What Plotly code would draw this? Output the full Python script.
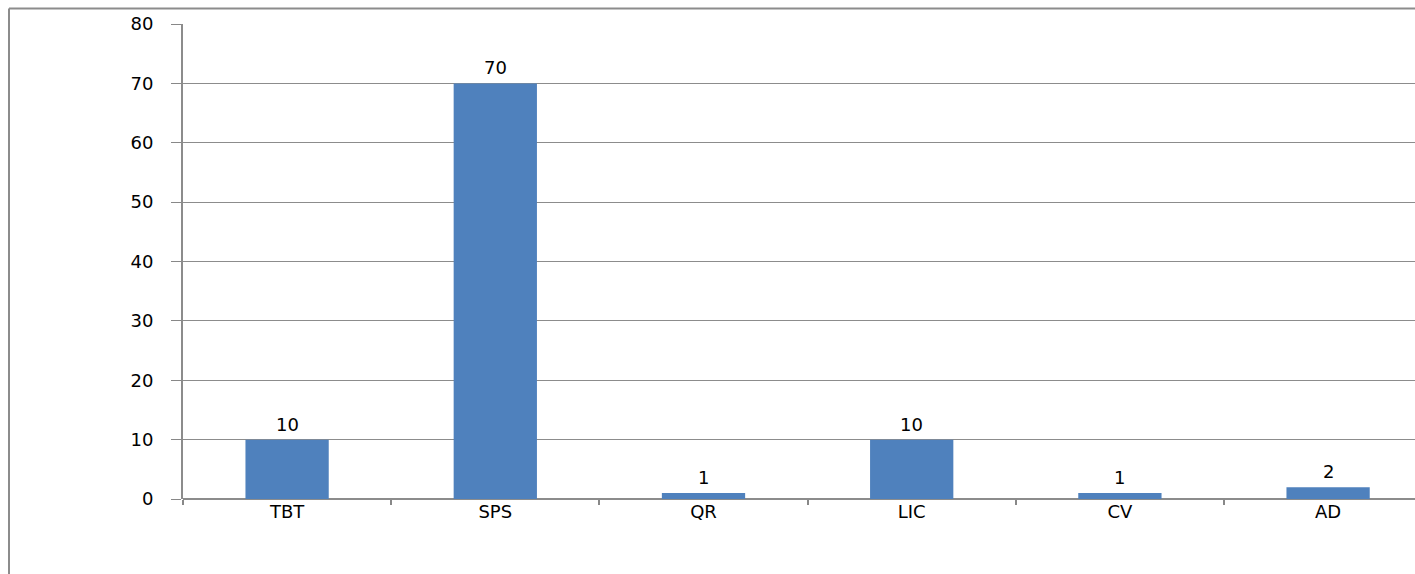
import plotly.graph_objects as go

categories = ["TBT", "SPS", "QR", "LIC", "CV", "AD"]
values = [10, 70, 1, 10, 1, 2]
y_ticks = [0, 10, 20, 30, 40, 50, 60, 70, 80]

W, H = 1415, 574
L, R, T, B = 183, 0, 24, 75
pw = W - L - R
ph = H - T - B

FONT = "DejaVu Sans"
FS = 18

fig = go.Figure()
fig.add_trace(go.Bar(
    x=categories, y=values,
    marker=dict(color="#4F81BD", line=dict(width=0)),
    width=0.4,
    cliponaxis=False,
))

for c, v in zip(categories, values):
    fig.add_annotation(x=c, y=v, text=str(v), showarrow=False,
                       yanchor="bottom", yshift=3,
                       font=dict(family=FONT, size=FS, color="#000000"))

cat_w = 208.2
xmax = -0.5 + pw / cat_w

fig.update_layout(
    width=W, height=H,
    margin=dict(l=L, r=R, t=T, b=B),
    paper_bgcolor="white", plot_bgcolor="white",
    showlegend=False,
    font=dict(family=FONT, size=FS, color="#000000"),
    xaxis=dict(
        range=[-0.5, xmax],
        tickson="boundaries", ticks="outside", ticklen=5, tickwidth=2, tickcolor="#888888",
        showline=False, showgrid=False,
        tickfont=dict(family=FONT, size=FS),
    ),
    yaxis=dict(
        range=[0, 80], tickvals=y_ticks, ticktext=[str(v) for v in y_ticks],
        ticks="outside", ticklen=10, tickwidth=1, tickcolor="#888888",
        showgrid=True, gridcolor="#8c8c8c", gridwidth=1,
        showline=True, linecolor="#8c8c8c", linewidth=2,
        zeroline=True, zerolinecolor="#8c8c8c", zerolinewidth=2,
        ticklabelstandoff=14,
        tickfont=dict(family=FONT, size=FS),
    ),
    shapes=[
        dict(type="line", xref="paper", yref="paper",
             x0=(9 - L) / pw, x1=1.02, y0=1 + (T - 8.5) / ph, y1=1 + (T - 8.5) / ph,
             line=dict(color="#8c8c8c", width=2)),
        dict(type="line", xref="paper", yref="paper",
             x0=(9 - L) / pw, x1=(9 - L) / pw, y0=1 + (T - 8.5) / ph, y1=-0.2,
             line=dict(color="#8c8c8c", width=2)),
    ],
)

fig.write_html(
    "out.html",
    config={"displayModeBar": False},
    post_script="document.body.style.margin='0';document.body.style.overflow='hidden';",
)
